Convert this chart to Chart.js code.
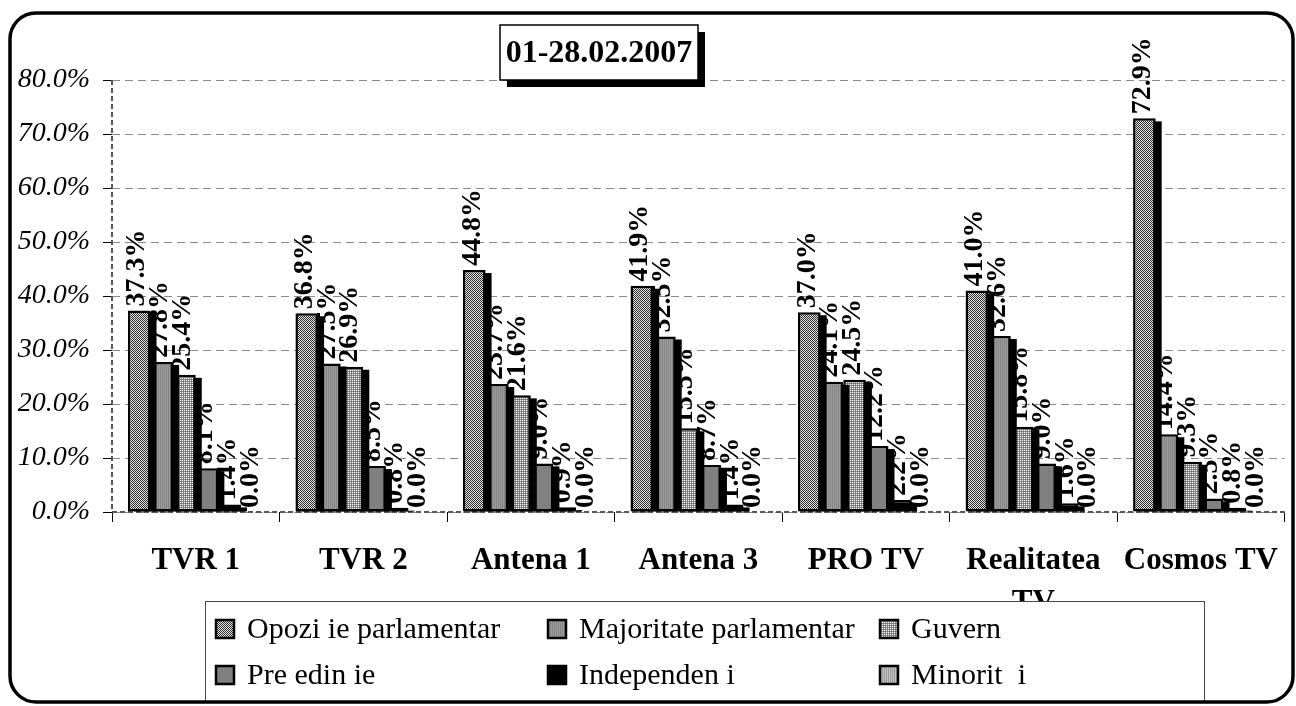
<!DOCTYPE html>
<html>
<head>
<meta charset="utf-8">
<script src="https://cdn.jsdelivr.net/npm/chart.js@4"></script>
<style>
  html, body { margin: 0; padding: 0; background: #fff; }
  canvas { display: block; }
</style>
</head>
<body>
<canvas id="bars" width="1296" height="706"></canvas>
<script>
var posturi = ['TVR 1', 'TVR 2', 'Antena 1', 'Antena 3', 'PRO TV', ['Realitatea', 'TV'], 'Cosmos TV'];

var opozitie    = [37.3, 36.8, 44.8, 41.9, 37.0, 41.0, 72.9];
var majoritate  = [27.8, 27.5, 23.7, 32.5, 24.1, 32.6, 14.4];
var guvern      = [25.4, 26.9, 21.6, 15.5, 24.5, 15.8, 9.3];
var presedintie = [8.1, 8.5, 9.0, 8.7, 12.2, 9.0, 2.5];
var independenti = [1.4, 0.8, 0.9, 1.4, 2.2, 1.6, 0.8];
var minoritati  = [0.0, 0.0, 0.0, 0.0, 0.0, 0.0, 0.0];

var numeSerii = ['Opozi ie parlamentar', 'Majoritate parlamentar', 'Guvern',
                 'Pre edin ie', 'Independen i', 'Minorit  i'];
var perioada = '01-28.02.2007';

// tiny pixel patterns, like the old excel fills
function pattern(w, h, px) {
    var c = document.createElement('canvas');
    c.width = w; c.height = h;
    var g = c.getContext('2d');
    for (var i = 0; i < px.length; i++) {
        g.fillStyle = px[i];
        g.fillRect(i % w, Math.floor(i / w), 1, 1);
    }
    return g.createPattern(c, 'repeat');
}

var fills = [
    pattern(2, 2, ['#2a2a2a', '#e8e8e8', '#e8e8e8', '#2a2a2a']),
    pattern(2, 1, ['#858585', '#9c9c9c']),
    pattern(2, 2, ['#ffffff', '#8a8a8a', '#8a8a8a', '#6e6e6e']),
    '#808080',
    '#000000',
    pattern(2, 1, ['#9a9a9a', '#c2c2c2'])
];

var serif = "'Liberation Serif', 'Times New Roman', serif";

var shadowsAndLabels = {
    id: 'shadowsAndLabels',
    beforeDatasetDraw: function (chart, args) {
        var ctx = chart.ctx;
        ctx.save();
        ctx.fillStyle = '#000';
        args.meta.data.forEach(function (el) {
            var h = el.base - el.y - 3;
            if (h > 0) ctx.fillRect(el.x - el.width / 2 + 6, el.y + 3, el.width, h);
        });
        ctx.restore();
    },
    afterDatasetDraw: function (chart, args) {
        var ctx = chart.ctx;
        var vals = chart.data.datasets[args.index].data;
        ctx.save();
        ctx.fillStyle = '#000';
        ctx.font = 'bold 28px ' + serif;
        ctx.textAlign = 'left';
        ctx.textBaseline = 'middle';
        args.meta.data.forEach(function (el, i) {
            ctx.save();
            ctx.translate(el.x - 2, el.y - 4);
            ctx.rotate(-Math.PI / 2);
            ctx.fillText(vals[i].toFixed(1) + '%', 0, 0);
            ctx.restore();
        });
        ctx.restore();
    }
};

var axesLines = {
    id: 'axesLines',
    beforeDatasetsDraw: function (chart) {
        var a = chart.chartArea, ctx = chart.ctx;
        ctx.save();
        ctx.strokeStyle = '#555';
        ctx.lineWidth = 2;
        ctx.setLineDash([5, 3]);
        ctx.beginPath();
        ctx.moveTo(a.left, a.top);
        ctx.lineTo(a.left, a.bottom);
        ctx.lineTo(a.right, a.bottom);
        ctx.stroke();
        ctx.restore();
    }
};

var decor = {
    id: 'decor',
    afterDraw: function (chart) {
        var ctx = chart.ctx;
        ctx.save();

        // title box with shadow
        ctx.fillStyle = '#000';
        ctx.fillRect(507, 32, 198, 55);
        ctx.fillStyle = '#fff';
        ctx.fillRect(500, 25, 198, 55);
        ctx.strokeStyle = '#000';
        ctx.lineWidth = 1.5;
        ctx.strokeRect(500, 25, 198, 55);
        ctx.fillStyle = '#000';
        ctx.font = 'bold 32px ' + serif;
        ctx.textAlign = 'center';
        ctx.textBaseline = 'middle';
        ctx.fillText(perioada, 599, 54);

        // legend
        ctx.fillStyle = '#fff';
        ctx.fillRect(205, 601, 999, 101);
        ctx.strokeStyle = '#444';
        ctx.lineWidth = 1;
        ctx.strokeRect(205.5, 601.5, 999, 101);
        ctx.font = '30px ' + serif;
        ctx.textAlign = 'left';
        chart.data.datasets.forEach(function (ds, i) {
            var x = 216 + (i % 3) * 332;
            var y = i < 3 ? 629 : 675;
            ctx.fillStyle = ds.backgroundColor;
            ctx.fillRect(x, y - 9, 18, 18);
            ctx.strokeStyle = '#000';
            ctx.lineWidth = 2.5;
            ctx.strokeRect(x, y - 9, 18, 18);
            ctx.fillStyle = '#000';
            ctx.fillText(ds.label, x + 31, y + 1);
        });

        // rounded outer frame
        var x0 = 10, y0 = 13, x1 = 1293, y1 = 702, r = 26;
        ctx.strokeStyle = '#000';
        ctx.lineWidth = 3.5;
        ctx.beginPath();
        ctx.moveTo(x0 + r, y0);
        ctx.arcTo(x1, y0, x1, y1, r);
        ctx.arcTo(x1, y1, x0, y1, r);
        ctx.arcTo(x0, y1, x0, y0, r);
        ctx.arcTo(x0, y0, x1, y0, r);
        ctx.closePath();
        ctx.stroke();
        ctx.restore();
    }
};

var serii = [opozitie, majoritate, guvern, presedintie, independenti, minoritati];

new Chart(document.getElementById('bars').getContext('2d'), {
    type: 'bar',
    data: {
        labels: posturi,
        datasets: serii.map(function (d, i) {
            return {
                label: numeSerii[i],
                data: d,
                backgroundColor: fills[i],
                borderColor: '#000',
                borderWidth: 2.5,
                borderSkipped: false,
                categoryPercentage: 0.81,
                barPercentage: 1.0
            };
        })
    },
    options: {
        responsive: false,
        animation: false,
        layout: { padding: { top: 80, right: 0, bottom: 0, left: 0 } },
        plugins: {
            legend: { display: false },
            title: { display: false },
            tooltip: { enabled: false }
        },
        scales: {
            x: {
                afterFit: function (s) { s.height = 194; },
                grid: { drawOnChartArea: false, tickLength: 10, tickColor: '#000' },
                border: { display: false },
                ticks: {
                    color: '#000',
                    padding: 18,
                    maxRotation: 0,
                    font: { family: serif, size: 31, weight: 'bold', lineHeight: 1.36 }
                }
            },
            y: {
                min: 0,
                max: 80,
                afterFit: function (s) { s.width = 112; },
                grid: { color: '#8a8a8a', lineWidth: 1, tickLength: 9, tickColor: '#000' },
                border: { display: false, dash: [8, 5] },
                ticks: {
                    stepSize: 10,
                    color: '#000',
                    padding: 13,
                    font: { family: serif, size: 28, style: 'italic' },
                    callback: function (v) { return v.toFixed(1) + '%'; }
                }
            }
        }
    },
    plugins: [axesLines, shadowsAndLabels, decor]
});
</script>
</body>
</html>
